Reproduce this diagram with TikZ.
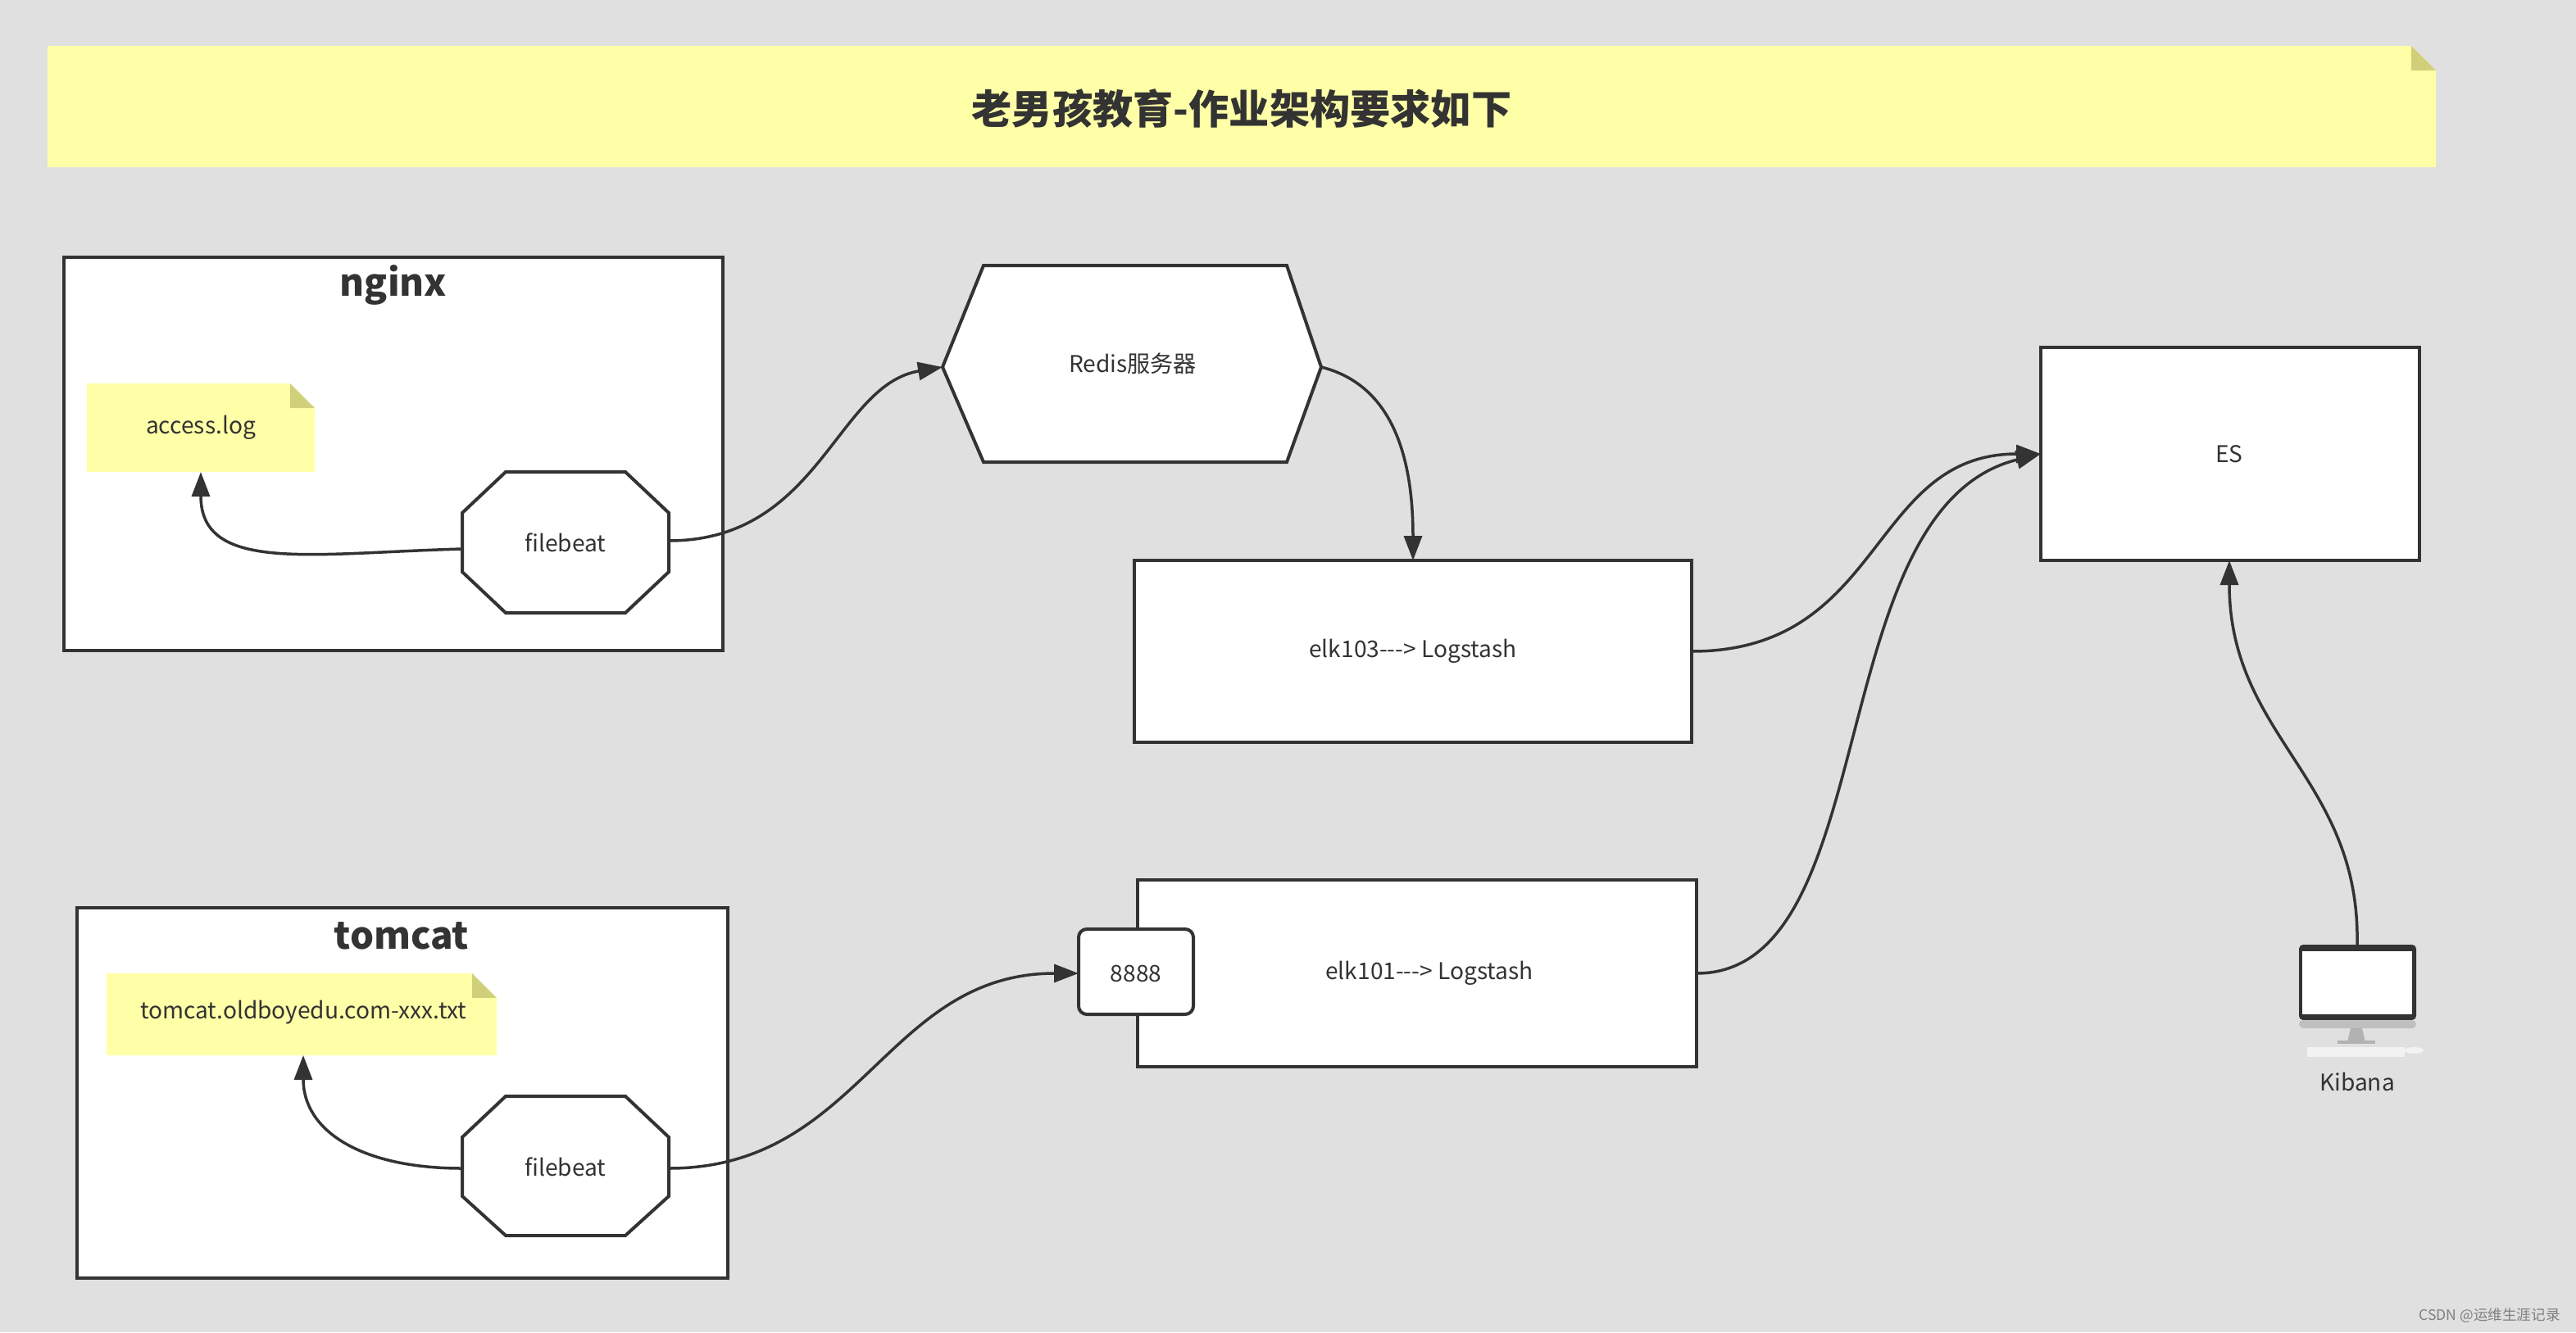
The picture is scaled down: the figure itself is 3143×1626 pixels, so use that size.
\documentclass[tikz,border=0pt]{standalone}
\usepackage{fontspec}
\setmainfont{Noto Sans CJK SC}
\usetikzlibrary{shapes.geometric,arrows.meta}
\definecolor{bg}{HTML}{E0E0E0}
\definecolor{note}{HTML}{FFFFA8}
\definecolor{fold}{HTML}{D0D07A}
\definecolor{ln}{HTML}{333333}
\tikzset{
 shp/.style={draw=ln,line width=0.4mm,fill=white},
 conn/.style={draw=ln,line width=0.35mm,-{Triangle[length=3mm,width=2.2mm]}},
 lbl/.style={font=\fontsize{8}{10}\selectfont,text=ln},
}
\begin{document}
\begin{tikzpicture}[x=0.1mm,y=-0.1mm]
\fill[bg] (0,0) rectangle (3143,1626);
\useasboundingbox (0,0) rectangle (3143,1626);
% title note
\fill[note] (58,56) -- (2942,56) -- (2972,86) -- (2972,204) -- (58,204) -- cycle;
\fill[fold] (2942,56) -- (2972,86) -- (2942,86) -- cycle;
\node[font=\bfseries\fontsize{14}{16}\selectfont,text=ln] (title) at (1515,132) {老男孩教育-作业架构要求如下};
% nginx
\draw[shp] (78,314) rectangle (882,794);
\node[font=\bfseries\fontsize{13}{15}\selectfont,text=ln] (nginx) at (480,348) {nginx};
\fill[note] (106,468) -- (354,468) -- (384,498) -- (384,576) -- (106,576) -- cycle;
\fill[fold] (354,468) -- (384,498) -- (354,498) -- cycle;
\node[lbl] (alog) at (245,522) {access.log};
\coordinate (alogb) at (245,576);
\draw[shp] (617,576) -- (763,576) -- (816,626) -- (816,698) -- (763,748) -- (617,748) -- (564,698) -- (564,626) -- cycle;
\node[lbl] (fb1) at (690,662) {filebeat};
\coordinate (fb1l) at (564,670); \coordinate (fb1r) at (816,660);
% tomcat
\draw[shp] (94,1108) rectangle (888,1560);
\node[font=\bfseries\fontsize{13}{15}\selectfont,text=ln] (tomcat) at (490,1142) {tomcat};
\fill[note] (130,1188) -- (576,1188) -- (606,1218) -- (606,1288) -- (130,1288) -- cycle;
\fill[fold] (576,1188) -- (606,1218) -- (576,1218) -- cycle;
\node[lbl] (tlog) at (370,1236) {tomcat.oldboyedu.com-xxx.txt};
\coordinate (tlogb) at (370,1288);
\draw[shp] (617,1338) -- (763,1338) -- (816,1388) -- (816,1460) -- (763,1508) -- (617,1508) -- (564,1460) -- (564,1388) -- cycle;
\node[lbl] (fb2) at (690,1424) {filebeat};
\coordinate (fb2l) at (564,1426); \coordinate (fb2r) at (816,1426);
% redis
\draw[shp] (1200,324) -- (1570,324) -- (1612,448) -- (1570,564) -- (1200,564) -- (1150,448) -- cycle;
\node[lbl] (redis) at (1382,444) {Redis服务器};
\coordinate (redl) at (1150,448); \coordinate (redr) at (1612,448);
% elk103
\draw[shp] (1384,684) rectangle (2064,906);
\node[lbl] (elk103) at (1724,795) {elk103{-}{-}{-}> Logstash};
\coordinate (e3t) at (1724,684); \coordinate (e3r) at (2064,795);
% elk101
\draw[shp] (1388,1074) rectangle (2070,1302);
\node[lbl] (elk101) at (1744,1188) {elk101{-}{-}{-}> Logstash};
\coordinate (e1r) at (2070,1188);
\draw[shp,rounded corners=1mm] (1316,1134) rectangle (1456,1238);
\node[lbl] (p8888) at (1386,1188) {8888};
\coordinate (p8l) at (1316,1188);
% ES
\draw[shp] (2490,424) rectangle (2952,684);
\node[lbl] (es) at (2720,554) {ES};
\coordinate (esl) at (2490,554); \coordinate (esb) at (2720,684);
% monitor
\fill[ln,rounded corners=0.5mm] (2805,1153) rectangle (2948,1245);
\fill[white] (2809,1161) rectangle (2943,1238);
\fill[black!25,rounded corners=0.5mm] (2805,1245) rectangle (2948,1255);
\fill[black!30] (2868,1255) -- (2882,1255) -- (2886,1272) -- (2864,1272) -- cycle;
\fill[black!30] (2852,1270) rectangle (2898,1274);
\fill[white!90!gray] (2815,1278) rectangle (2934,1290);
\fill[white!90!gray] (2945,1282) ellipse (12 and 4);
\node[lbl] (kib) at (2876,1320) {Kibana};
\coordinate (kibt) at (2876,1153);
% watermark
\node[font=\fontsize{5}{6}\selectfont,text=black!50,anchor=east] (wm) at (3136,1606) {CSDN @运维生涯记录};
% connectors
\draw[conn] (fb1l) .. controls (380,675) and (245,700) .. (alogb);
\draw[conn] (fb1r) .. controls (1000,660) and (1020,470) .. (redl);
\draw[conn] (redr) .. controls (1700,470) and (1724,560) .. (e3t);
\draw[conn] (e3r) .. controls (2300,795) and (2280,554) .. (esl);
\draw[conn] (e1r) .. controls (2300,1188) and (2220,620) .. (esl);
\draw[conn] (kibt) .. controls (2880,950) and (2720,900) .. (esb);
\draw[conn] (fb2l) .. controls (440,1426) and (370,1380) .. (tlogb);
\draw[conn] (fb2r) .. controls (1050,1426) and (1080,1188) .. (p8l);
\end{tikzpicture}
\end{document}
